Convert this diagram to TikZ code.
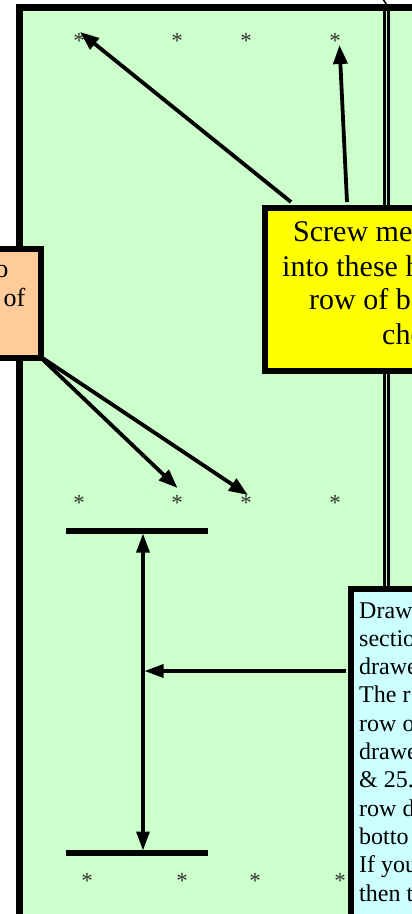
\documentclass[tikz,border=0pt]{standalone}
\usepackage{fontspec}
\setmainfont{Liberation Serif}
\usetikzlibrary{arrows.meta}
\definecolor{grn}{HTML}{CCFFCC}
\definecolor{ylw}{HTML}{FFFF00}
\definecolor{org}{HTML}{FFCC99}
\definecolor{cyn}{HTML}{CCFFFF}
\definecolor{astc}{HTML}{333333}
\tikzset{
  boxstyle/.style={draw=black, line width=6.2pt, rectangle, inner sep=0pt},
  ytxt/.style={inner sep=0pt, anchor=base west, font=\fontsize{30}{34}\selectfont},
  otxt/.style={inner sep=0pt, anchor=base east, font=\fontsize{26}{30}\selectfont},
  ctxt/.style={inner sep=0pt, anchor=base west, font=\fontsize{24}{28}\selectfont},
  ast/.style={inner sep=0pt, anchor=base, text=astc, font=\fontsize{23}{23}\selectfont},
  bigarr/.style={line width=3.8pt, -{Triangle[length=19pt,width=14pt]}},
  dimarr/.style={line width=3.2pt, {Triangle[length=19pt,width=13pt]}-{Triangle[length=19pt,width=13pt]}},
  sidearr/.style={line width=3.4pt, -{Triangle[length=19pt,width=13pt]}},
  barline/.style={line width=5.5pt}
}
\begin{document}
\begin{tikzpicture}[x=1pt,y=-1pt]
\useasboundingbox (0,0) rectangle (412,914);
\fill[white] (0,0) rectangle (412,914);
% green cabinet area
\fill[grn] (19.5,7.5) rectangle (430,930);
\draw[line width=7pt] (19.5,940) -- (19.5,7.5) -- (430,7.5);
\draw[line width=2.6pt] (384.5,7.5) -- (384.5,600);
\draw[line width=3.2pt] (388.5,7.5) -- (388.5,600);
% cut-off curve at top
\draw[line width=1.6pt] (374,-6) .. controls (384,-1) .. (387.5,7.5);

% asterisks
\foreach \n/\x/\y in {a1/79/38, a2/177/38, a3/246/38, a4/335/38,
                      b1/79/500, b2/177/500, b3/246/500, b4/335/500,
                      c1/87/878, c2/182/878, c3/255/878, c4/340/878}
  \node[ast] (\n) at (\x,\y+10.5) {*};

% bars and dimension arrow
\coordinate (bar1l) at (66,531);
\coordinate (bar1r) at (208,531);
\coordinate (bar2l) at (66,853);
\coordinate (bar2r) at (208,853);
\draw[barline] (bar1l) -- (bar1r);
\draw[barline] (bar2l) -- (bar2r);
\coordinate (dimtop) at (143,533.5);
\coordinate (dimbot) at (143,850.5);
\draw[dimarr] (dimtop) -- (dimbot);

% orange box
\node[boxstyle, fill=org, minimum width=110pt, minimum height=109pt, anchor=north east] (obox) at (44,245.5) {};
\node[otxt] (ot1) at (8.5,277) {o};
\node[otxt] (ot2) at (25.5,306.7) {of};

% yellow box
\node[boxstyle, fill=ylw, minimum width=260pt, minimum height=163pt, anchor=north west] (ybox) at (262,204.5) {};
\node[ytxt] (yt1) at (293,241) {Screw me};
\node[ytxt] (yt2) at (282,276) {into these h};
\node[ytxt] (yt3) at (309,309.5) {row of bo};
\node[ytxt] (yt4) at (382,344) {che};

% cyan box
\node[boxstyle, fill=cyn, minimum width=200pt, minimum height=400pt, anchor=north west] (cbox) at (348,585.5) {};
\foreach \t [count=\i] in {Draw, sectio, drawe, The r, row o, drawe, \& 25., row d, botto, If you, then t}
  \node[ctxt] (ct\i) at (359,{618+28.3*(\i-1)}) {\t};

% arrows from yellow box
\coordinate (ya1) at (291,202);
\coordinate (ya2) at (347,202);
\coordinate (yt1end) at (80,32);
\coordinate (yt2end) at (339.5,45);
\draw[bigarr] (ya1) -- (yt1end);
\draw[bigarr] (ya2) -- (yt2end);

% arrows from orange box
\coordinate (oa) at (38,355);
\coordinate (ob2tip) at (177.5,488);
\coordinate (ob3tip) at (248,495);
\draw[bigarr] (oa) -- (ob2tip);
\draw[bigarr] (oa) -- (ob3tip);

% arrow from cyan box to dimension line
\coordinate (cstart) at (346,671);
\coordinate (cend) at (144.5,671);
\draw[sidearr] (cstart) -- (cend);
\end{tikzpicture}
\end{document}
